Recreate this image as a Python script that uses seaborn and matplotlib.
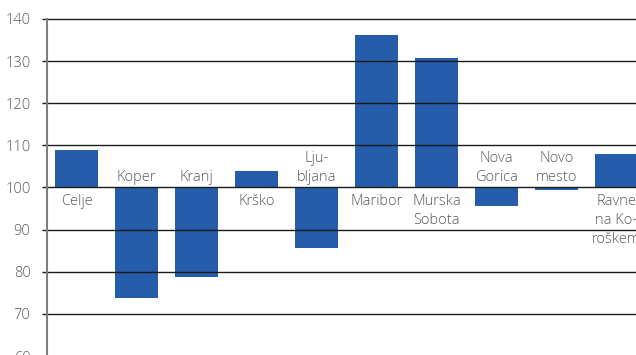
import matplotlib
matplotlib.use("Agg")
import matplotlib.pyplot as plt
import seaborn as sns
import pandas as pd

categories = ["Celje", "Koper", "Kranj", "Krško", "Ljubljana", "Maribor",
              "Murska Sobota", "Nova Gorica", "Novo mesto", "Ravne na Koroškem"]
labels = ["Celje", "Koper", "Kranj", "Krško", "Lju-\nbljana", "Maribor",
          "Murska\nSobota", "Nova\nGorica", "Novo\nmesto", "Ravne\nna Ko-\nroškem"]
values = [109.0, 73.8, 78.8, 104.0, 85.7, 136.2, 130.7, 95.5, 99.4, 107.9]
baseline = 100
yticks = [60, 70, 80, 90, 100, 110, 120, 130, 140]

sns.set_theme(style="white")
plt.rcParams["font.family"] = ["Open Sans", "DejaVu Sans"]

df = pd.DataFrame({"region": categories, "value": values})
df["delta"] = df["value"] - baseline

fig = plt.figure(figsize=(6.36, 3.55), dpi=100)
ax = fig.add_axes([46.5 / 636, -1 / 355, 600 / 636, 337 / 355])

sns.barplot(data=df, x="region", y="delta", bottom=baseline, color="#265DAB",
            saturation=1, width=0.72, ax=ax, zorder=1, linewidth=0)

ax.set_ylim(60, 140)
ax.set_xlim(-0.5, len(categories) - 0.5)
ax.set_yticks(yticks)
ax.set_yticklabels([str(t) for t in yticks])
for t in yticks:
    ax.axhline(t, color="#1a1a1a", lw=1.0, zorder=3, clip_on=False)

ax.set_xticks([])
ax.set_xlabel("")
ax.set_ylabel("")
for s in ["top", "right", "bottom"]:
    ax.spines[s].set_visible(False)
ax.spines["left"].set_color("#7f7f7f")
ax.spines["left"].set_linewidth(1.5)
ax.spines["left"].set_zorder(4)
ax.tick_params(axis="y", left=True, length=3.5, width=1, color="#1a1a1a",
               pad=8, labelsize=10.5, labelcolor="#5a5a5a")
for lbl in ax.get_yticklabels():
    lbl.set_fontweight("light")

for i, (lab, v) in enumerate(zip(labels, values)):
    if v >= baseline:
        ax.text(i, baseline - 1.5, lab, ha="center", va="top", fontsize=10.5,
                color="#5a5a5a", linespacing=1.35, fontweight="light",
                clip_on=False)
    else:
        ax.text(i, baseline + 0.6, lab, ha="center", va="bottom", fontsize=10.5,
                color="#5a5a5a", linespacing=1.35, fontweight="light",
                clip_on=False)

fig.savefig("out.png", dpi=100)
